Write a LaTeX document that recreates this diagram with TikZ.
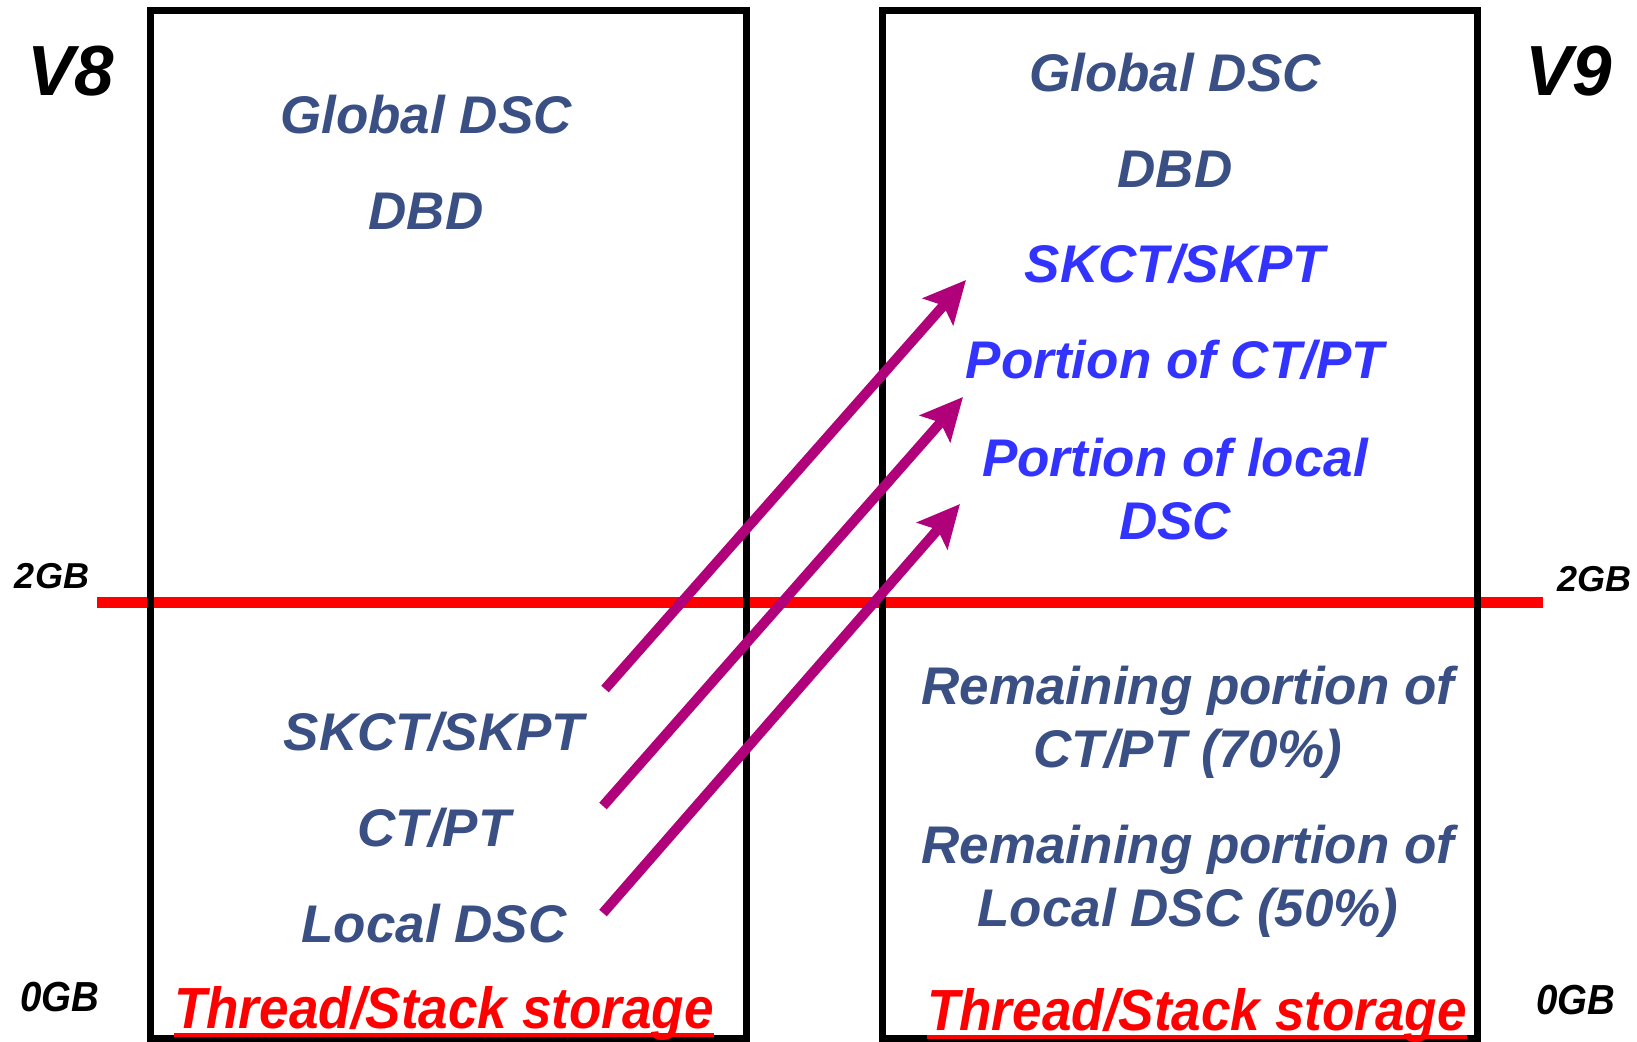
\documentclass[tikz,border=0pt]{standalone}
\usepackage{fontspec}
\setmainfont{Liberation Sans}
\newfontfamily\narrowfont[FakeStretch=0.915]{Liberation Sans}
\usetikzlibrary{positioning,arrows.meta}
\definecolor{areablue}{RGB}{58,80,132}
\definecolor{movedblue}{RGB}{51,51,255}
\definecolor{movepurple}{RGB}{176,0,122}
\tikzset{mem box/.style={draw=black,line width=3.5pt},
  area label/.style={text=areablue,font=\fontsize{26.5}{31.5}\selectfont\bfseries\itshape,align=center,inner sep=0pt,anchor=base},
  moved label/.style={area label,text=movedblue},
  version label/.style={font=\fontsize{35.5}{40}\selectfont\bfseries\itshape,inner sep=0pt,anchor=base},
  limit label/.style={font=\fontsize{18}{20}\selectfont\bfseries\itshape,inner sep=0pt,anchor=base},
  low label/.style={font=\fontsize{21}{24}\narrowfont\bfseries\itshape,inner sep=0pt,anchor=base},
  stack label/.style={text=red,font=\fontsize{29}{32}\narrowfont\bfseries\itshape,inner sep=0pt,anchor=base},
  stack line/.style={draw=red,line width=1.6pt},
  move arrow/.style={draw=movepurple,line width=5pt,-{Stealth[length=21pt,width=20pt,inset=4pt]}},
}

\begin{document}
\begin{tikzpicture}[x=0.5pt,y=-0.5pt]
		\useasboundingbox (0,0) rectangle (1637,1042);
		% 2GB line and the two address spaces
		\draw[red,line width=5.5pt] (97,602) -- (1543,602);
		\draw[mem box] (150,11) rectangle (746,1038);
		\draw[mem box] (882,11) rectangle (1477,1038);
		
		\node[version label] (v8) at (71,96) {V8};
		\node[version label] (v9) at (1569,96) {V9};
		\node[limit label] (lim2l) at (52,588) {2GB};
		\node[limit label] (lim2r) at (1594,591) {2GB};
		\node[low label] (lim0l) at (60,1011) {0GB};
		\node[low label] (lim0r) at (1576,1014) {0GB};
		
		% V8
		\node[area label] (l1) at (426,134) {Global DSC};
		\node[area label] (l2) at (426,230) {DBD};
		\node[area label] (l3) at (434,750) {SKCT/SKPT};
		\node[area label] (l4) at (434,846) {CT/PT};
		\node[area label] (l5) at (434,942) {Local DSC};
		\node[stack label] (l6) at (444,1028) {Thread/Stack storage};
		\draw[stack line] ([yshift=-3.5pt]l6.base west) -- ([yshift=-3.5pt]l6.base east);
		
		% V9 (base = last line)
		\node[area label] (r1) at (1175,92) {Global DSC};
		\node[area label] (r2) at (1175,188) {DBD};
		\node[moved label] (r3) at (1175,283) {SKCT/SKPT};
		\node[moved label] (r4) at (1175,379) {Portion of CT/PT};
		\node[moved label] (r5) at (1175,539) {Portion of local\\DSC};
		\node[area label] (r6) at (1188,767) {Remaining portion of\\CT/PT (70\%)};
		\node[area label] (r7) at (1188,926) {Remaining portion of\\Local DSC (50\%)};
		\node[stack label] (r8) at (1197,1030) {Thread/Stack storage};
		\draw[stack line] ([yshift=-3.5pt]r8.base west) -- ([yshift=-3.5pt]r8.base east);
		
		\coordinate (s1) at (605,689);
		\coordinate (s2) at (603,806);
		\coordinate (s3) at (603,913);
		\coordinate (t1) at (966,280);
		\coordinate (t2) at (963,397);
		\coordinate (t3) at (960,504);
		
		\path
		(s1) edge[move arrow] (t1)
		(s2) edge[move arrow] (t2)
		(s3) edge[move arrow] (t3)
		;
		\end{tikzpicture}
\end{document}
